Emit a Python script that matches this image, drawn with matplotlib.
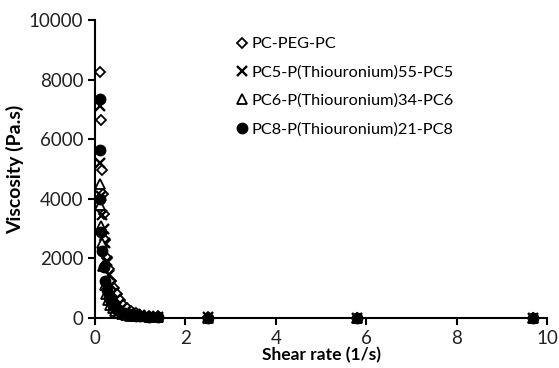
import matplotlib
matplotlib.use('Agg')
import matplotlib.pyplot as plt

plt.rcParams['font.family'] = ['Lato', 'DejaVu Sans']

# shear rate (1/s) and viscosity (Pa.s)
peg_x = [0.12, 0.13, 0.15, 0.17, 0.2, 0.23, 0.27, 0.31, 0.36, 0.42, 0.48,
         0.55, 0.62, 0.7, 0.8, 0.9, 1.0, 1.2, 1.4, 2.5, 5.8, 9.7]
peg_y = [8250, 6650, 4950, 4150, 3500, 2600, 2000, 1650, 1250, 1000, 800,
         600, 450, 320, 220, 150, 110, 70, 50, 25, 10, 5]

pc5_x = [0.1, 0.12, 0.14, 0.16, 0.19, 0.22, 0.26, 0.3, 0.35, 0.4, 0.46,
         0.52, 0.6, 0.68, 0.78, 0.88, 1.0, 1.2, 1.4, 2.5, 5.8, 9.7]
pc5_y = [7100, 5200, 4100, 3450, 3000, 2500, 1900, 1450, 1100, 850, 650,
         480, 350, 250, 180, 120, 90, 60, 40, 20, 8, 4]

pc6_x = [0.1, 0.11, 0.13, 0.15, 0.18, 0.21, 0.25, 0.29, 0.34, 0.39, 0.45,
         0.52, 0.6, 0.68, 0.78, 0.88, 1.0, 1.2, 1.4, 2.5, 5.8, 9.7]
pc6_y = [4500, 3800, 3100, 2500, 1750, 1100, 800, 600, 450, 330, 250,
         180, 130, 100, 80, 60, 50, 40, 30, 15, 6, 3]

pc8_x = [0.1, 0.11, 0.12, 0.14, 0.16, 0.19, 0.22, 0.26, 0.3, 0.35, 0.4,
         0.46, 0.53, 0.6, 0.7, 0.8, 0.9, 1.0, 1.2, 1.4, 2.5, 5.8, 9.7]
pc8_y = [7350, 5650, 4000, 2900, 2250, 1700, 1250, 950, 700, 520, 400,
         300, 220, 160, 120, 90, 70, 55, 40, 30, 15, 6, 3]

series = [
    ('PC-PEG-PC', peg_x, peg_y, dict(marker='D', mfc='white', mec='black',
                                     ms=5.5, mew=1.3)),
    ('PC5-P(Thiouronium)55-PC5', pc5_x, pc5_y,
     dict(marker='x', color='black', ms=7.5, mew=1.7)),
    ('PC6-P(Thiouronium)34-PC6', pc6_x, pc6_y,
     dict(marker='^', mfc='white', mec='black', ms=7.5, mew=1.3)),
    ('PC8-P(Thiouronium)21-PC8', pc8_x, pc8_y,
     dict(marker='o', color='black', ms=7.5)),
]

fig = plt.figure(figsize=(5.59, 3.68), dpi=100)
ax = fig.add_axes([0.170, 0.136, 0.8085, 0.8097])

for label, xs, ys, style in series:
    ax.plot(xs, ys, linestyle='none', label=label, clip_on=False, **style)

ax.set_xlim(0, 10)
ax.set_ylim(0, 10000)
ax.set_xticks(range(0, 11, 2))
ax.set_yticks(range(0, 10001, 2000))
for side in ('top', 'right'):
    ax.spines[side].set_visible(False)
for side in ('left', 'bottom'):
    ax.spines[side].set_linewidth(1.5)
ax.tick_params(direction='out', length=5, width=1.5, labelsize=13.5,
               labelcolor='#222222')
ax.tick_params(axis='x', pad=4)

ax.set_xlabel('Shear rate (1/s)', fontsize=12.5, fontweight='bold',
              labelpad=0)
ax.set_ylabel('Viscosity (Pa.s)', fontsize=14, fontweight='bold', labelpad=3)

ax.legend(loc='upper left', bbox_to_anchor=(0.424, 0.90),
          bbox_transform=fig.transFigure, frameon=False, fontsize=11.8,
          handlelength=0.6, handletextpad=0.3, labelspacing=0.85,
          borderpad=0, borderaxespad=0)

fig.savefig('out.png', dpi=100)
